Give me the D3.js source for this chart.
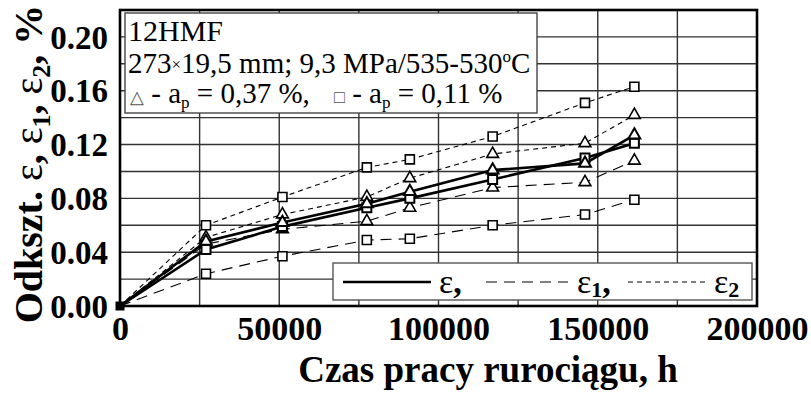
<!DOCTYPE html>
<html>
<head>
<meta charset="utf-8">
<script src="https://cdn.jsdelivr.net/npm/d3@7"></script>
<style>
  html, body { margin: 0; padding: 0; background: #fff; }
  svg { display: block; }
  text { font-family: "Liberation Serif", "Times New Roman", serif; fill: #000; }
</style>
</head>
<body>
<svg id="chart" width="811" height="394"></svg>
<script>
// Operating time of the pipeline, h
const hours = [0, 27000, 51000, 77500, 91000, 117000, 146000, 161500];

// Strain, % — triangle series (a_p = 0,37 %)
const epsTri  = [0, 0.048, 0.062, 0.076, 0.085, 0.101, 0.106, 0.127];
const eps1Tri = [0, 0.046, 0.057, 0.063, 0.073, 0.088, 0.092, 0.108];
const eps2Tri = [0, 0.051, 0.068, 0.081, 0.095, 0.113, 0.121, 0.142];

// Strain, % — square series (a_p = 0,11 %)
const epsSq  = [0, 0.042, 0.059, 0.073, 0.080, 0.094, 0.110, 0.121];
const eps1Sq = [0, 0.024, 0.037, 0.049, 0.050, 0.060, 0.068, 0.079];
const eps2Sq = [0, 0.060, 0.081, 0.103, 0.109, 0.126, 0.151, 0.163];

const xTicks = [0, 50000, 100000, 150000, 200000];
const yTicks = [0.00, 0.04, 0.08, 0.12, 0.16, 0.20];
const xGrid = d3.range(0, 200001, 25000);
const yGrid = d3.range(0, 0.2201, 0.02);

const svg = d3.select("#chart");
const pLeft = 120, pRight = 757, pTop = 10, pBottom = 306;

const x = d3.scaleLinear().domain([0, 200000]).range([pLeft, pRight]);
const y = d3.scaleLinear().domain([0, 0.22]).range([pBottom, pTop]);

// grid
const grid = svg.append("g").attr("stroke", "#333").attr("stroke-width", 1.4);
grid.selectAll("line.v").data(xGrid).join("line").attr("class", "v")
  .attr("x1", d => x(d)).attr("x2", d => x(d)).attr("y1", pTop).attr("y2", pBottom);
grid.selectAll("line.h").data(yGrid).join("line").attr("class", "h")
  .attr("y1", d => y(d)).attr("y2", d => y(d)).attr("x1", pLeft).attr("x2", pRight);

// series definitions
const styles = {
  eps:  { width: 2.6, dash: null },
  eps1: { width: 1.1, dash: "11,7" },
  eps2: { width: 1.1, dash: "5,4" }
};
const series = [
  { vals: eps2Sq,  kind: "eps2", mark: "sq" },
  { vals: eps2Tri, kind: "eps2", mark: "tri" },
  { vals: eps1Sq,  kind: "eps1", mark: "sq" },
  { vals: eps1Tri, kind: "eps1", mark: "tri" },
  { vals: epsSq,   kind: "eps",  mark: "sq" },
  { vals: epsTri,  kind: "eps",  mark: "tri" }
];

const line = d3.line().x(d => x(d[0])).y(d => y(d[1]));
const plot = svg.append("g");
series.forEach(s => {
  const pts = hours.map((h, i) => [h, s.vals[i]]);
  const st = styles[s.kind];
  plot.append("path").datum(pts)
    .attr("d", line)
    .attr("fill", "none").attr("stroke", "#000")
    .attr("stroke-width", st.width)
    .attr("stroke-dasharray", st.dash);
});

const sqSym = d3.symbol().type(d3.symbolSquare).size(81);
const triSym = d3.symbol().type(d3.symbolTriangle).size(60);
series.forEach(s => {
  const pts = hours.map((h, i) => [h, s.vals[i]]).slice(1);
  plot.append("g").selectAll("path").data(pts).join("path")
    .attr("transform", d => `translate(${x(d[0])},${y(d[1])})`)
    .attr("d", s.mark === "sq" ? sqSym : triSym)
    .attr("fill", "#fff").attr("stroke", "#000")
    .attr("stroke-width", s.kind === "eps" ? 2 : 1.6);
});
// common origin point
plot.append("path")
  .attr("transform", `translate(${x(0)},${y(0)})`)
  .attr("d", sqSym).attr("fill", "#000");

// frame
svg.append("rect").attr("x", pLeft).attr("y", pTop)
  .attr("width", pRight - pLeft).attr("height", pBottom - pTop)
  .attr("fill", "none").attr("stroke", "#000").attr("stroke-width", 2.6);

// axis labels
const yAxis = d3.axisLeft(y).tickValues(yTicks).tickFormat(d3.format(".2f")).tickSize(0).tickPadding(12);
const gy = svg.append("g").attr("transform", `translate(${pLeft},0)`).call(yAxis);
gy.select(".domain").remove();
gy.selectAll("text").attr("font-size", 33).attr("font-weight", "bold")
  .style("font-family", "'Liberation Serif', serif").attr("dy", "0.34em");

const xAxis = d3.axisBottom(x).tickValues(xTicks).tickFormat(d3.format("d")).tickSize(0).tickPadding(10);
const gx = svg.append("g").attr("transform", `translate(0,${pBottom})`).call(xAxis);
gx.select(".domain").remove();
gx.selectAll("text").attr("font-size", 34).attr("font-weight", "bold")
  .style("font-family", "'Liberation Serif', serif");

// axis titles
svg.append("text")
  .attr("x", 488).attr("y", 382).attr("text-anchor", "middle")
  .attr("font-size", 37).attr("font-weight", "bold")
  .text("Czas pracy rurociągu, h");

const yt = svg.append("text")
  .attr("transform", "translate(42,164) rotate(-90)")
  .attr("text-anchor", "middle").attr("font-size", 40).attr("font-weight", "bold");
yt.append("tspan").text("Odkszt. ");
yt.append("tspan").attr("font-weight", "normal").text("ε");
yt.append("tspan").text(", ");
yt.append("tspan").attr("font-weight", "normal").text("ε");
yt.append("tspan").attr("font-size", 26).attr("dy", 8).text("1");
yt.append("tspan").attr("dy", -8).text(", ");
yt.append("tspan").attr("font-weight", "normal").text("ε");
yt.append("tspan").attr("font-size", 26).attr("dy", 8).text("2");
yt.append("tspan").attr("dy", -8).text(", %");

// info box
svg.append("rect").attr("x", 125).attr("y", 13).attr("width", 412).attr("height", 100)
  .attr("fill", "#fff").attr("stroke", "#444").attr("stroke-width", 1.4);
svg.append("text").attr("x", 128).attr("y", 41).attr("font-size", 30).text("12HMF");
const l2 = svg.append("text").attr("x", 128).attr("y", 73).attr("font-size", 29);
l2.append("tspan").text("273");
l2.append("tspan").attr("font-size", 17).attr("dy", -3).text("×");
l2.append("tspan").attr("dy", 3).text("19,5 mm; 9,3 MPa/535-530");
l2.append("tspan").attr("font-size", 17).attr("dy", -11).text("o");
l2.append("tspan").attr("dy", 11).text("C");
const l3 = svg.append("text").attr("x", 130).attr("y", 103).attr("font-size", 29);
l3.append("tspan").attr("font-size", 18).attr("fill", "#555").text("△");
l3.append("tspan").text(" - a");
l3.append("tspan").attr("font-size", 17).attr("dy", 5).text("p");
l3.append("tspan").attr("dy", -5).text(" = 0,37 %,");
l3.append("tspan").attr("x", 334).attr("font-size", 18).attr("fill", "#555").text("□");
l3.append("tspan").text(" - a");
l3.append("tspan").attr("font-size", 17).attr("dy", 5).text("p");
l3.append("tspan").attr("dy", -5).text(" = 0,11 %");

// series legend
const lg = svg.append("g");
lg.append("rect").attr("x", 333).attr("y", 263).attr("width", 419).attr("height", 37)
  .attr("fill", "#fff").attr("stroke", "#555").attr("stroke-width", 1.4);
const legItems = [
  { kind: "eps",  x0: 343, x1: 431, tx: 439, sub: "",  comma: "," },
  { kind: "eps1", x0: 486, x1: 568, tx: 577, sub: "1", comma: "," },
  { kind: "eps2", x0: 628, x1: 705, tx: 714, sub: "2", comma: "" }
];
legItems.forEach(it => {
  const st = styles[it.kind];
  lg.append("line").attr("x1", it.x0).attr("x2", it.x1).attr("y1", 282).attr("y2", 282)
    .attr("stroke", "#000").attr("stroke-width", st.width === 2.6 ? 2.4 : 1.1)
    .attr("stroke-dasharray", st.dash);
  const t = lg.append("text").attr("x", it.tx).attr("y", 293).attr("font-size", 34);
  t.append("tspan").text("ε");
  if (it.sub) t.append("tspan").attr("font-size", 22).attr("font-weight", "bold").attr("dy", 4).text(it.sub);
  if (it.comma) t.append("tspan").attr("font-weight", "bold").attr("dy", it.sub ? -4 : 0).text(it.comma);
});
</script>
</body>
</html>
